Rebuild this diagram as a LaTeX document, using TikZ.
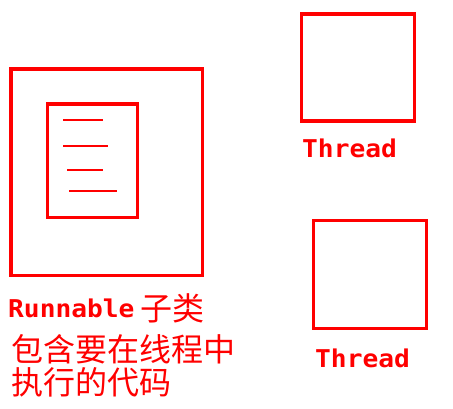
\documentclass[tikz,border=0pt]{standalone}
\usepackage{fontspec}
\newfontfamily\codefont[FakeStretch=1.07]{DejaVu Sans Mono}
\newfontfamily\cjk{Noto Sans CJK SC}
\definecolor{myred}{RGB}{255,0,0}
\begin{document}
\begin{tikzpicture}[x=1pt,y=-1pt,
  box/.style={draw=myred,line width=3.4pt},
  codeline/.style={draw=myred,line width=2.6pt},
  codelabel/.style={text=myred,anchor=base west,inner sep=0pt,font=\codefont\bfseries\fontsize{24.5}{26}\selectfont},
  cjklabel/.style={text=myred,anchor=base west,inner sep=0pt,font=\cjk\fontsize{32}{34}\selectfont}]
\useasboundingbox[fill=white] (0,0) rectangle (453,408);
% Runnable outer and inner boxes
\draw[box] (11,69) rectangle (202.5,275.5);
\draw[box] (47.7,104) rectangle (137.7,217.3);
\draw[codeline] (63,120) -- (103,120);
\draw[codeline] (63,146) -- (108,146);
\draw[codeline] (67,170) -- (103,170);
\draw[codeline] (69,191) -- (117,191);
% Thread boxes
\draw[box] (301.7,14) rectangle (414.3,121);
\draw[box] (313.7,220.7) rectangle (426.3,328.3);
% labels
\node[codelabel] (run) at (8,317) {Runnable};
\node[cjklabel] (sub) at (140,320) {子类};
\node[cjklabel] (l2) at (11,361) {包含要在线程中};
\node[cjklabel] (l3) at (11,394) {执行的代码};
\node[codelabel] (t1) at (302,157) {Thread};
\node[codelabel] (t2) at (315,367) {Thread};
\end{tikzpicture}
\end{document}
